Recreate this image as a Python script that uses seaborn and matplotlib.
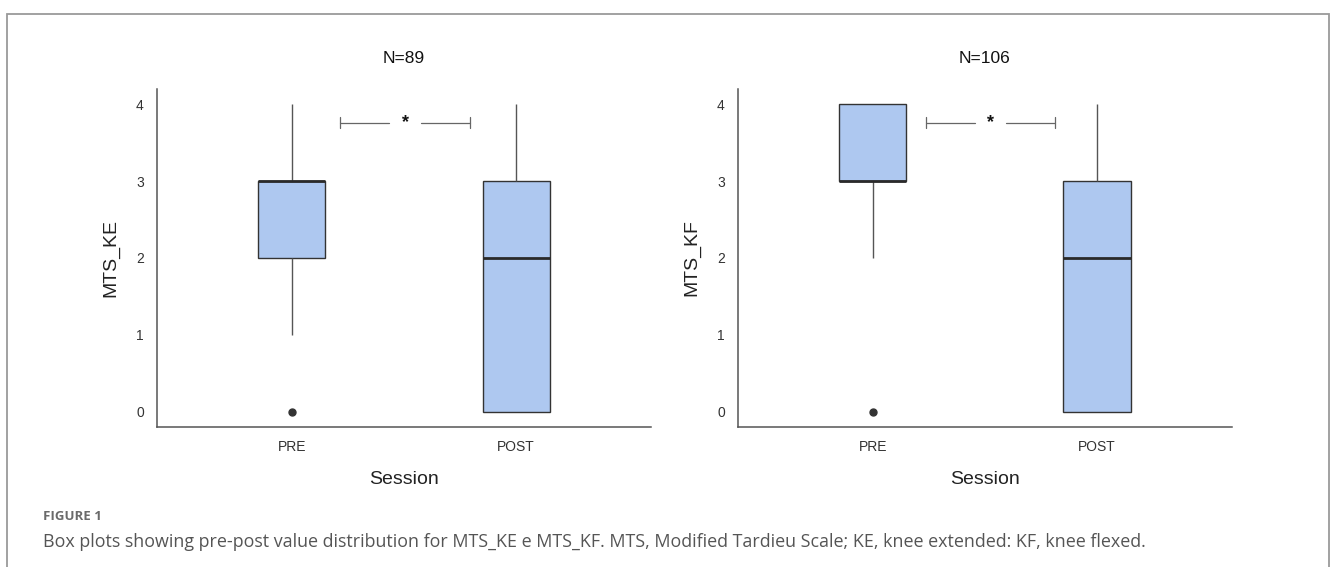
import matplotlib
matplotlib.use("Agg")
import matplotlib.pyplot as plt
from matplotlib.patches import Rectangle
import pandas as pd
import seaborn as sns

# Scores per session (representative values)
SESSIONS = ["PRE", "POST"]
KE_PRE = [0, 1, 2, 2, 3, 3, 3, 3, 4]
KE_POST = [0, 0, 0, 1, 2, 3, 3, 3, 4]
KF_PRE = [0, 2, 3, 3, 3, 4, 4, 4, 4]
KF_POST = [0, 0, 0, 1, 2, 3, 3, 3, 4]
TITLES = ["N=89", "N=106"]
YLABELS = ["MTS_KE", "MTS_KF"]
YTICKS = [0, 1, 2, 3, 4]

BOX_COLOR = "#aec8f0"
EDGE = "#333333"
AXIS_GRAY = "#555555"

CAPTION_HEAD = "FIGURE 1"
CAPTION = ("Box plots showing pre-post value distribution for MTS_KE e MTS_KF. "
           "MTS, Modified Tardieu Scale; KE, knee extended: KF, knee flexed.")


def make_frame(pre, post, col):
    return pd.DataFrame({
        "Session": ["PRE"] * len(pre) + ["POST"] * len(post),
        col: pre + post,
    })


def draw_panel(ax, df, col, title, bracket):
    sns.boxplot(
        data=df, x="Session", y=col, order=SESSIONS, ax=ax,
        width=0.3, color=BOX_COLOR, linecolor=EDGE, linewidth=1,
        saturation=1, showcaps=False, fliersize=5,
        flierprops={"marker": "o", "markerfacecolor": "#333333",
                    "markeredgecolor": "#333333"},
        medianprops={"color": "#2a2a2a", "linewidth": 2},
        whiskerprops={"color": "#555555", "linewidth": 1},
    )
    ax.set_xlim(-0.6, 1.6)
    ax.set_ylim(-0.2, 4.2)
    ax.set_yticks(YTICKS)
    ax.set_title(title, fontsize=12.5, pad=19, color="#111111")
    ax.set_xlabel("Session", fontsize=14, color="#222222", labelpad=12)
    ax.set_ylabel(col, fontsize=14, color="#222222", labelpad=12)
    ax.tick_params(axis="both", labelsize=10, colors=AXIS_GRAY,
                   labelcolor="#333333", length=4, width=1, pad=5.5)
    for side in ["top", "right"]:
        ax.spines[side].set_visible(False)
    for side in ["left", "bottom"]:
        ax.spines[side].set_color(AXIS_GRAY)
        ax.spines[side].set_linewidth(1.1)

    # significance bracket
    x0, x1, y = bracket
    xm = (x0 + x1) / 2
    ax.plot([x0, xm - 0.07], [y, y], color="#666666", lw=0.9)
    ax.plot([xm + 0.07, x1], [y, y], color="#666666", lw=0.9)
    ax.plot([x0, x0], [y - 0.07, y + 0.07], color="#666666", lw=0.9)
    ax.plot([x1, x1], [y - 0.07, y + 0.07], color="#666666", lw=0.9)
    ax.text(xm, y, "*", ha="center", va="center", fontsize=13,
            fontweight="bold", color="#111111")


def main():
    sns.set_style("white")
    plt.rcParams["font.family"] = ["Liberation Sans", "DejaVu Sans"]

    fig = plt.figure(figsize=(13.31, 5.67), dpi=100)
    ax1 = fig.add_axes([0.118, 0.247, 0.371, 0.596])
    ax2 = fig.add_axes([0.5545, 0.247, 0.371, 0.596])

    draw_panel(ax1, make_frame(KE_PRE, KE_POST, "MTS_KE"), "MTS_KE",
               TITLES[0], (0.215, 0.795, 3.76))
    draw_panel(ax2, make_frame(KF_PRE, KF_POST, "MTS_KF"), "MTS_KF",
               TITLES[1], (0.237, 0.812, 3.76))

    # outer frame
    fig.patches.append(Rectangle((7 / 1331, -0.05), 1322 / 1331, 1.05 - 14 / 567,
                                 transform=fig.transFigure, fill=False,
                                 edgecolor="#9a9a9a", lw=1.3))

    fig.text(43 / 1331, 1 - 520 / 567, CAPTION_HEAD, fontsize=9.5,
             fontweight="bold", color="#6a6a6a", va="baseline",
             family=["Open Sans", "DejaVu Sans"])
    fig.text(43 / 1331, 1 - 547 / 567, CAPTION, fontsize=12.9,
             color="#555555", va="baseline",
             family=["Open Sans", "DejaVu Sans"])

    fig.savefig("out.png", dpi=100)


if __name__ == "__main__":
    main()
